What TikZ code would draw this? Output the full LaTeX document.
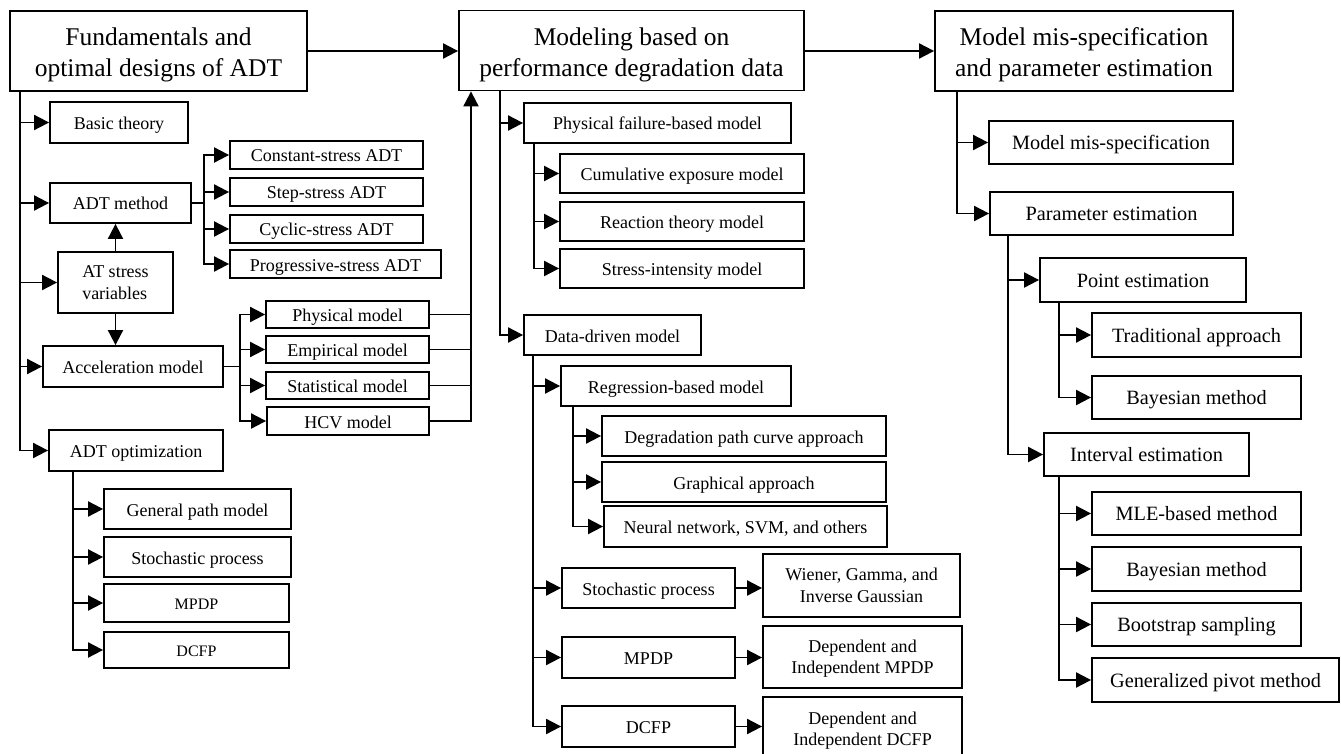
\documentclass[tikz,border=0pt]{standalone}
\usepackage{fontspec}
\setmainfont{Liberation Serif}
\usetikzlibrary{arrows.meta}
\newcommand{\fsz}[2]{\fontsize{#1}{#2}\selectfont}
\newcommand{\up}[1]{\rule{0pt}{#1}}
\tikzset{
  bx/.style={draw, line width=1.8pt, inner sep=0pt, align=center},
  box/.style={bx, font=\fsz{18}{21.5}, text height=14pt, text depth=0pt},
  mbox/.style={bx, font=\fsz{18}{21.5}},
  tbox/.style={bx, font=\fsz{25.5}{31}},
  rbox/.style={bx, font=\fsz{20.3}{24}, text height=14pt, text depth=0pt},
  sbox/.style={bx, font=\fsz{16}{19}, text height=13pt, text depth=0pt},
  conn/.style={line width=1.9pt},
  arr/.style={line width=1.9pt, -{Triangle[length=15pt,width=15pt]}},
}
\begin{document}
\begin{tikzpicture}[x=1pt,y=-1pt]
\useasboundingbox (0,0) rectangle (1341,754);
% ---------- titles ----------
\node[tbox, minimum width=297pt, minimum height=80pt] (t1) at (158.5,51) {\up{25pt}Fundamentals and\\optimal designs of ADT};
\node[tbox, minimum width=345pt, minimum height=80pt] (t2) at (631.5,50.5) {\up{26pt}Modeling based on\\performance degradation data};
\node[tbox, minimum width=298pt, minimum height=80pt] (t3) at (1084,51) {\up{25pt}Model mis-specification\\and parameter estimation};
\draw[arr] (t1.east) -- (t1.east -| t2.west);
\draw[arr] (t3.west -| t2.east) -- (t3.west);

% ---------- left column ----------
\node[box, minimum width=138pt, minimum height=41pt] (bt) at (119,122.5) {Basic theory};
\node[box, minimum width=141pt, minimum height=40pt] (adm) at (120.5,203) {ADT method};
\node[box, minimum width=193pt, minimum height=28pt] (cs) at (326.5,155) {Constant-stress ADT};
\node[box, minimum width=193pt, minimum height=28pt] (ss) at (326.5,192) {Step-stress ADT};
\node[box, minimum width=193pt, minimum height=28pt] (cy) at (326.5,229) {Cyclic-stress ADT};
\node[box, minimum width=211pt, minimum height=28pt] (ps) at (335.5,264) {Progressive-stress ADT};
\node[mbox, minimum width=115pt, minimum height=61pt, align=left] (at) at (115.5,282.5) {AT stress\\variables};
\node[box, minimum width=180pt, minimum height=41pt] (acc) at (133,366.5) {Acceleration model};
\node[box, minimum width=163pt, minimum height=27pt] (pm) at (347.5,314.5) {Physical model};
\node[box, minimum width=163pt, minimum height=27pt] (em) at (347.5,349.5) {Empirical model};
\node[box, minimum width=163pt, minimum height=27pt] (stm) at (347.5,385.5) {Statistical model};
\node[box, minimum width=162pt, minimum height=28pt] (hcv) at (348,421) {HCV model};
\node[box, minimum width=174pt, minimum height=41pt] (opt) at (136,450.5) {ADT optimization};
\node[box, minimum width=187pt, minimum height=40pt] (gp) at (197.5,509) {General path model};
\node[box, minimum width=187pt, minimum height=40pt] (sp) at (197.5,557) {Stochastic process};
\node[sbox, minimum width=185pt, minimum height=38pt] (mp) at (196.5,603) {MPDP};
\node[sbox, minimum width=185pt, minimum height=36pt] (dc) at (196.5,650) {DCFP};

\coordinate (L) at (20,91);
\draw[arr] (L) |- (opt.west);
\draw[arr] (L |- bt.west) -- (bt.west);
\draw[arr] (L |- adm.west) -- (adm.west);
\draw[arr] (L |- at.west) -- (at.west);
\draw[arr] (L |- acc.west) -- (acc.west);

\coordinate (B1) at (204,203);
\draw[conn] (adm.east) -- (B1);
\draw[arr] (B1) |- (cs.west);
\draw[arr] (B1) |- (ps.west);
\draw[arr] (B1 |- ss.west) -- (ss.west);
\draw[arr] (B1 |- cy.west) -- (cy.west);

\draw[arr] (at.north) -- (at.north |- adm.south);
\draw[arr] (at.south) -- (at.south |- acc.north);

\coordinate (B2) at (240,366.5);
\draw[conn] (acc.east) -- (B2);
\draw[arr] (B2) |- (pm.west);
\draw[arr] (B2) |- (hcv.west);
\draw[arr] (B2 |- em.west) -- (em.west);
\draw[arr] (B2 |- stm.west) -- (stm.west);

\coordinate (R) at (471,421);
\draw[conn] (pm.east) -- (pm.east -| R);
\draw[conn] (em.east) -- (em.east -| R);
\draw[conn] (stm.east) -- (stm.east -| R);
\draw[arr] (hcv.east) -- (hcv.east -| R) -- (R |- t2.south);

\coordinate (B3) at (73,471);
\draw[arr] (B3) |- (dc.west);
\draw[arr] (B3 |- gp.west) -- (gp.west);
\draw[arr] (B3 |- sp.west) -- (sp.west);
\draw[arr] (B3 |- mp.west) -- (mp.west);

% ---------- middle column ----------
\node[box, minimum width=267pt, minimum height=40pt] (pf) at (657.5,123) {Physical failure-based model};
\node[box, minimum width=244pt, minimum height=39pt] (ce) at (682,173.5) {Cumulative exposure model};
\node[box, minimum width=244pt, minimum height=39pt] (rt) at (682,221.5) {Reaction theory model};
\node[box, minimum width=244pt, minimum height=39pt] (si) at (682,268.5) {Stress-intensity model};
\node[box, minimum width=177pt, minimum height=40pt] (dd) at (612.5,335) {Data-driven model};
\node[box, minimum width=230pt, minimum height=40pt] (rb) at (676,386) {Regression-based model};
\node[box, minimum width=284pt, minimum height=40pt] (dp) at (744,436) {Degradation path curve approach};
\node[box, minimum width=284pt, minimum height=40pt] (ga) at (744,482) {Graphical approach};
\node[box, minimum width=283pt, minimum height=41pt] (nn) at (745.5,526.5) {Neural network, SVM, and others};
\node[box, minimum width=173pt, minimum height=40pt] (sp2) at (648.5,588) {Stochastic process};
\node[mbox, minimum width=197pt, minimum height=63pt] (wg) at (861.5,585.5) {Wiener, Gamma, and\\Inverse Gaussian};
\node[box, minimum width=173pt, minimum height=41pt] (mp2) at (648.5,657.5) {MPDP};
\node[mbox, minimum width=199pt, minimum height=62pt] (dm) at (862.5,657) {\up{16pt}Dependent and\\Independent MPDP};
\node[box, minimum width=173pt, minimum height=41pt] (dc2) at (648.5,726.5) {DCFP};
\node[mbox, minimum width=199pt, minimum height=64pt] (dcd) at (862.5,729) {\up{16pt}Dependent and\\Independent DCFP};

\coordinate (M) at (500,90);
\draw[arr] (M) |- (dd.west);
\draw[arr] (M |- pf.west) -- (pf.west);

\coordinate (M1) at (534,143);
\draw[arr] (M1) |- (si.west);
\draw[arr] (M1 |- ce.west) -- (ce.west);
\draw[arr] (M1 |- rt.west) -- (rt.west);

\coordinate (M2) at (533,355);
\draw[arr] (M2) |- (dc2.west);
\draw[arr] (M2 |- rb.west) -- (rb.west);
\draw[arr] (M2 |- sp2.west) -- (sp2.west);
\draw[arr] (M2 |- mp2.west) -- (mp2.west);

\coordinate (M3) at (573,406);
\draw[arr] (M3) |- (nn.west);
\draw[arr] (M3 |- dp.west) -- (dp.west);
\draw[arr] (M3 |- ga.west) -- (ga.west);

\draw[arr] (sp2.east) -- (sp2.east -| wg.west);
\draw[arr] (mp2.east) -- (mp2.east -| dm.west);
\draw[arr] (dc2.east) -- (dc2.east -| dcd.west);

% ---------- right column ----------
\node[rbox, minimum width=244pt, minimum height=43pt] (mm) at (1111,142.5) {Model mis-specification};
\node[rbox, minimum width=243pt, minimum height=43pt] (pe) at (1111.5,213.5) {Parameter estimation};
\node[rbox, minimum width=206pt, minimum height=44pt] (pt) at (1143,280) {Point estimation};
\node[rbox, minimum width=209pt, minimum height=44pt] (ta) at (1196.5,335) {Traditional approach};
\node[rbox, minimum width=209pt, minimum height=43pt] (bm1) at (1196.5,397.5) {Bayesian method};
\node[rbox, minimum width=205pt, minimum height=43pt] (ie) at (1146.5,454.5) {Interval estimation};
\node[rbox, minimum width=209pt, minimum height=43pt] (ml) at (1196.5,513.5) {MLE-based method};
\node[rbox, minimum width=209pt, minimum height=44pt] (bm2) at (1196.5,569) {Bayesian method};
\node[rbox, minimum width=209pt, minimum height=43pt] (bs) at (1196.5,624.5) {Bootstrap sampling};
\node[rbox, minimum width=247pt, minimum height=44pt] (gpm) at (1215.5,680) {Generalized pivot method};

\coordinate (Q) at (957,91);
\draw[arr] (Q) |- (pe.west);
\draw[arr] (Q |- mm.west) -- (mm.west);

\coordinate (Q1) at (1008,235);
\draw[arr] (Q1) |- (ie.west);
\draw[arr] (Q1 |- pt.west) -- (pt.west);

\coordinate (Q2) at (1059,302);
\draw[arr] (Q2) |- (bm1.west);
\draw[arr] (Q2 |- ta.west) -- (ta.west);

\coordinate (Q3) at (1059,476);
\draw[arr] (Q3) |- (gpm.west);
\draw[arr] (Q3 |- ml.west) -- (ml.west);
\draw[arr] (Q3 |- bm2.west) -- (bm2.west);
\draw[arr] (Q3 |- bs.west) -- (bs.west);
\end{tikzpicture}
\end{document}
